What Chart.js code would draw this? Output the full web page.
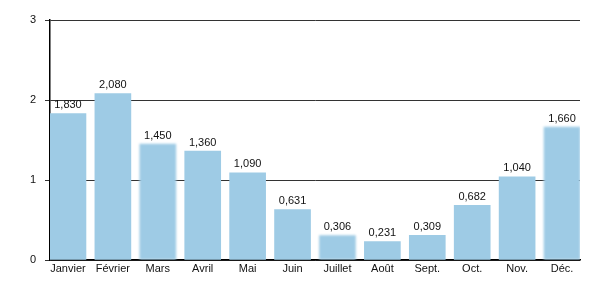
<!DOCTYPE html>
<html>
<head>
<meta charset="utf-8">
<script src="https://cdn.jsdelivr.net/npm/chart.js@4/dist/chart.umd.min.js"></script>
<style>
  html, body { margin: 0; padding: 0; background: #fff; }
  #wrap { width: 600px; height: 300px; }
</style>
</head>
<body>
<div id="wrap"><canvas id="chart"></canvas></div>
<script>
const months = ["Janvier", "Février", "Mars", "Avril", "Mai", "Juin", "Juillet", "Août", "Sept.", "Oct.", "Nov.", "Déc."];
const values = [1.83, 2.08, 1.45, 1.36, 1.09, 0.631, 0.306, 0.231, 0.309, 0.682, 1.04, 1.66];
const yTicks = [0, 1, 2, 3];

const barColor = "#9ecbe5";
const font = { family: "'Liberation Sans', Arial, sans-serif", size: 11 };
// these bars look slightly soft-edged in the original
const softBars = [2, 6, 11];

// french-ish label with comma decimal
const fmt = v => v.toFixed(3).replace(".", ",");

const softEdges = {
    id: "softEdges",
    beforeDatasetsDraw(chart) {
        const meta = chart.getDatasetMeta(0);
        softBars.forEach(i => {
            const bar = meta.data[i];
            if (!bar || bar._soft) return;
            const orig = bar.draw.bind(bar);
            bar.draw = ctx => {
                ctx.save();
                ctx.filter = "blur(1.2px)";
                orig(ctx);
                ctx.restore();
            };
            bar._soft = true;
        });
    }
};

const valueLabels = {
    id: "valueLabels",
    afterDatasetsDraw(chart) {
        const ctx = chart.ctx;
        const meta = chart.getDatasetMeta(0);
        ctx.save();
        ctx.font = "11px " + font.family;
        ctx.fillStyle = "#111";
        ctx.textAlign = "center";
        ctx.textBaseline = "bottom";
        meta.data.forEach((bar, i) => {
            ctx.fillText(fmt(values[i]), bar.x, bar.y - 3);
        });
        ctx.restore();
    }
};

new Chart(document.getElementById("chart"), {
    type: "bar",
    data: {
        datasets: [{
            data: values.map((v, i) => ({ x: i, y: v })),
            backgroundColor: barColor,
            borderWidth: 0,
            barThickness: 36
        }]
    },
    options: {
        responsive: true,
        maintainAspectRatio: false,
        animation: false,
        layout: { padding: { top: 20, right: 20, left: 0, bottom: 0 } },
        plugins: { legend: { display: false }, tooltip: { enabled: false } },
        scales: {
            x: {
                type: "linear",
                offset: false,
                min: -0.4,
                max: 11.4,
                afterBuildTicks: s => { s.ticks = months.map((m, i) => ({ value: i })); },
                afterFit: s => { s.height = 40; },
                grid: { display: false, drawTicks: false, offset: false },
                border: { display: true, color: "#000", width: 1.5 },
                ticks: {
                    callback: v => months[v],
                    autoSkip: false,
                    maxRotation: 0,
                    padding: 2,
                    color: "#111",
                    font
                }
            },
            y: {
                min: 0,
                max: 3,
                afterBuildTicks: s => { s.ticks = yTicks.map(v => ({ value: v })); },
                afterFit: s => { s.width = 50; },
                grid: { color: "#333", lineWidth: 1, tickLength: 5 },
                border: { display: true, color: "#000", width: 1.5 },
                ticks: { padding: 9, color: "#111", font }
            }
        }
    },
    plugins: [softEdges, valueLabels]
});
</script>
</body>
</html>
